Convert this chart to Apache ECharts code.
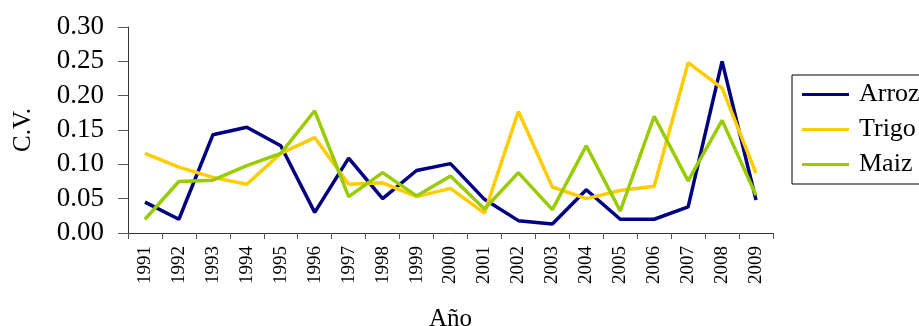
<!DOCTYPE html>
<html><head><meta charset="utf-8">
<script src="https://cdn.jsdelivr.net/npm/echarts@6/dist/echarts.min.js"></script>
<style>html,body{margin:0;padding:0;background:#fff}#c{width:919px;height:326px}</style>
</head><body><div id="c"></div>
<script>
const years = ['1991','1992','1993','1994','1995','1996','1997','1998','1999','2000','2001','2002','2003','2004','2005','2006','2007','2008','2009'];
const arroz = [0.045,0.020,0.143,0.154,0.127,0.030,0.109,0.050,0.091,0.101,0.049,0.018,0.013,0.063,0.020,0.020,0.038,0.250,0.048];
const trigo = [0.116,0.096,0.081,0.071,0.116,0.139,0.071,0.073,0.053,0.065,0.029,0.177,0.067,0.050,0.062,0.068,0.248,0.211,0.087];
const maiz  = [0.020,0.075,0.077,0.098,0.116,0.178,0.053,0.088,0.054,0.083,0.035,0.088,0.034,0.127,0.032,0.170,0.076,0.164,0.055];
const seriesNames = ['Arroz','Trigo','Maiz'];
const yTicks = {min:0, max:0.30, interval:0.05};

const font = '"Liberation Serif","Times New Roman",serif';
const chart = echarts.init(document.getElementById('c'), null, {renderer:'canvas'});
const colors = ['#000080','#FFCC00','#99CC00'];
const data = [arroz, trigo, maiz];
chart.setOption({
  animation:false,
  backgroundColor:'#fff',
  color: colors,
  grid:{left:128, right:146, top:27, bottom:93, containLabel:false, outerBoundsMode:'none'},
  legend:{
    orient:'vertical', left:792, top:75,
    padding:[6,12,6,10],
    itemGap:8, itemWidth:47, itemHeight:14,
    borderColor:'#000', borderWidth:1,
    data: seriesNames.map(n=>({name:n, icon:'path://M0,5.5 L47,5.5 L47,8.5 L0,8.5 Z'})),
    textStyle:{fontFamily:font, fontSize:26, color:'#000', lineHeight:27, padding:[0,0,0,5]}
  },
  xAxis:{
    type:'category', data:years, boundaryGap:true,
    name:'Año', nameLocation:'middle', nameGap:74,
    nameTextStyle:{fontFamily:font, fontSize:25, color:'#000'},
    axisLine:{lineStyle:{color:'#333', width:1}},
    axisTick:{show:true, length:6, lineStyle:{color:'#555'}},
    axisLabel:{rotate:90, margin:13, fontFamily:font, fontSize:19, color:'#000', interval:0}
  },
  yAxis:{
    type:'value', min:yTicks.min, max:yTicks.max, interval:yTicks.interval,
    name:'C.V.', nameLocation:'middle', nameGap:92, nameRotate:90,
    nameTextStyle:{fontFamily:font, fontSize:25, color:'#000'},
    splitLine:{show:false},
    axisLine:{show:true, lineStyle:{color:'#333', width:1}},
    axisTick:{show:true, length:10, lineStyle:{color:'#555'}},
    axisLabel:{margin:24, fontFamily:font, fontSize:27, color:'#000', formatter:v=>v.toFixed(2)}
  },
  series: seriesNames.map((n,i)=>({
    name:n, type:'line', data:data[i], symbol:'none',
    lineStyle:{width:3.5, color:colors[i]}, itemStyle:{color:colors[i]}
  }))
});
</script></body></html>
